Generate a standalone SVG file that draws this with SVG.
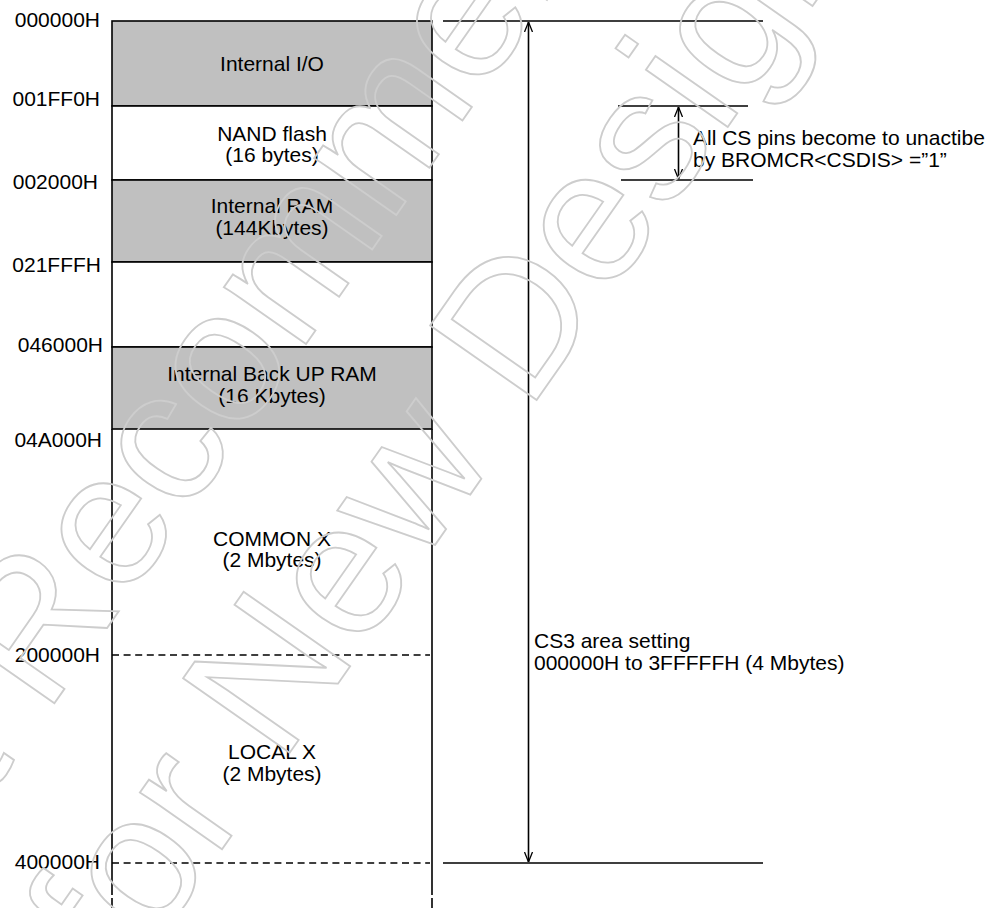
<svg xmlns="http://www.w3.org/2000/svg" width="1005" height="908" viewBox="0 0 1005 908">
<style>
text{font-family:"Liberation Sans",Arial,sans-serif;font-size:21px;fill:#000}
.lbl{text-anchor:end}
.mid{text-anchor:middle}
.gray{fill:#c0c0c0;stroke:#000;stroke-width:1.6}
.white{fill:#fff;stroke:#000;stroke-width:1.6}
.ln{stroke:#000;stroke-width:1.6;fill:none}
.dash{stroke:#000;stroke-width:1.6;stroke-dasharray:7 4.6;fill:none}
.wm{font-size:189px;fill:none;stroke:#cdcdcd;stroke-width:1.8;text-anchor:middle}
</style>
<defs>
<marker id="ah" viewBox="0 0 10 10" refX="10" refY="5" markerWidth="10" markerHeight="10" markerUnits="userSpaceOnUse" orient="auto-start-reverse">
<path d="M0,1 L10,5 L0,9" fill="none" stroke="#000" stroke-width="1.3"/>
</marker>
</defs>
<rect width="1005" height="908" fill="#fff"/>
<g id="memory-map">
<g id="internal-io"><rect class="gray" x="112" y="21" width="320" height="85"/><text class="mid" x="272" y="71">Internal I/O</text></g>
<g id="nand-flash"><rect class="white" x="112" y="106" width="320" height="74"/><text class="mid" x="272" y="141">NAND flash</text><text class="mid" x="272" y="162">(16 bytes)</text></g>
<g id="internal-ram"><rect class="gray" x="112" y="180" width="320" height="82"/><text class="mid" x="272" y="213">Internal RAM</text><text class="mid" x="272" y="235">(144Kbytes)</text></g>
<g id="gap1"><rect class="white" x="112" y="262" width="320" height="85"/></g>
<g id="backup-ram"><rect class="gray" x="112" y="347" width="320" height="82"/><text class="mid" x="272" y="381">Internal Back UP RAM</text><text class="mid" x="272" y="403">(16 Kbytes)</text></g>
<g id="common-x"><text class="mid" x="272" y="546">COMMON X</text><text class="mid" x="272" y="567">(2 Mbytes)</text></g>
<g id="local-x"><text class="mid" x="272" y="759">LOCAL X</text><text class="mid" x="272" y="781">(2 Mbytes)</text></g>
<path class="ln" d="M112,429 V895 M112,898 V908 M432,429 V895 M432,898 V908"/>
<path class="dash" d="M112,655 H430 M112,863 H430"/>
</g>
<g id="addresses">
<text class="lbl" x="100" y="27">000000H</text>
<text class="lbl" x="100" y="106">001FF0H</text>
<text class="lbl" x="98" y="189">002000H</text>
<text class="lbl" x="101" y="272">021FFFH</text>
<text class="lbl" x="103" y="352">046000H</text>
<text class="lbl" x="102" y="447">04A000H</text>
<text class="lbl" x="100" y="662">200000H</text>
<text class="lbl" x="100" y="869">400000H</text>
</g>
<g id="connectors">
<path class="ln" d="M443,21 H763 M443,863 H763"/>
<line class="ln" x1="528.5" y1="22" x2="528.5" y2="862" marker-start="url(#ah)" marker-end="url(#ah)"/>
<path class="ln" d="M618,106 H748 M621,180 H753"/>
<line class="ln" x1="678.5" y1="107" x2="678.5" y2="179" marker-start="url(#ah)" marker-end="url(#ah)"/>
</g>
<g id="cs3-label">
<text x="534" y="648">CS3 area setting</text>
<text x="534" y="670">000000H to 3FFFFFH (4 Mbytes)</text>
</g>
<g id="csdis-label">
<text x="693" y="145">All CS pins become to unactibe</text>
<text x="693" y="167">by BROMCR&lt;CSDIS&gt; =”1”</text>
</g>
<g id="watermark" transform="rotate(-55)">
<text class="wm" x="-93" y="448">Not Recommended</text>
<text class="wm" x="-93" y="669">for New Design</text>
</g>
</svg>
